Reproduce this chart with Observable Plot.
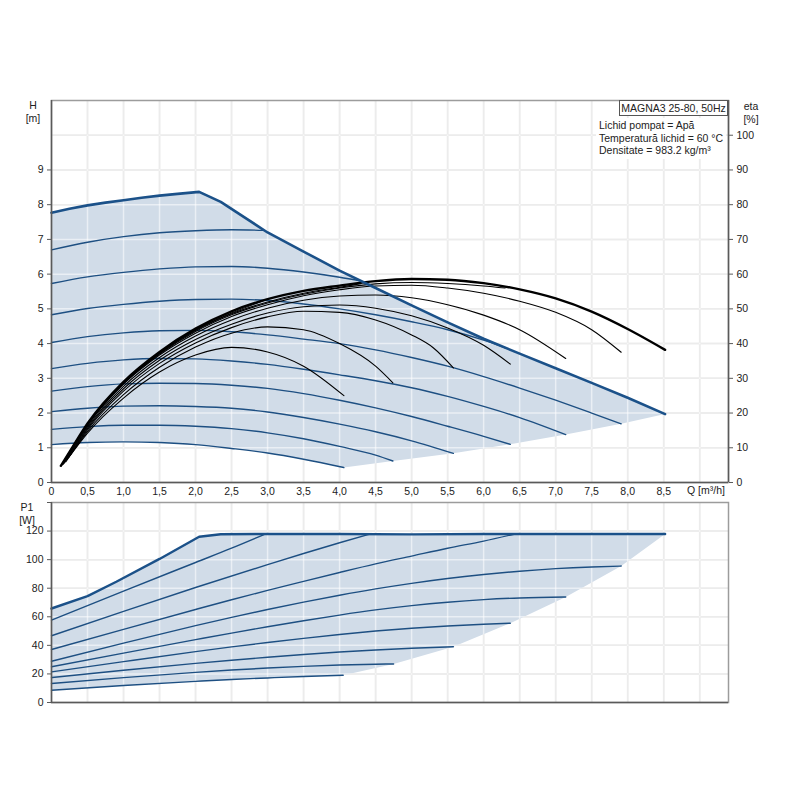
<!DOCTYPE html>
<html>
<head>
<meta charset="utf-8">
<script src="https://cdn.jsdelivr.net/npm/d3@7"></script>
<script src="https://cdn.jsdelivr.net/npm/@observablehq/plot@0.6"></script>
<style>
  html, body { margin: 0; padding: 0; background: #fff; }
  #wrap { position: relative; width: 800px; height: 800px; overflow: hidden;
          font-family: "Liberation Sans", Arial, sans-serif; font-size: 10.5px; color: #222; }
  #wrap > svg, #wrap > figure { position: absolute; left: 0; margin: 0; z-index: 0; }
  .lbl { position: absolute; line-height: 12.5px; white-space: nowrap; z-index: 2; }
  .ctr { text-align: center; }
</style>
</head>
<body>
<div id="wrap">
  <div class="lbl ctr" style="left:18px; top:99px; width:30px;">H<br>[m]</div>
  <div class="lbl ctr" style="left:735px; top:100px; width:32px;">eta<br>[%]</div>
  <div class="lbl ctr" style="left:12px; top:501px; width:30px;">P1<br>[W]</div>
  <div class="lbl" style="left:687px; top:484px;">Q [m³/h]</div>
  <div class="lbl" id="info" style="left:596px; top:118px; width:127px; padding:1px 0 2px 3px; background:#fff; line-height:12.5px;">
    Lichid pompat = Apă<br>Temperatură lichid = 60 °C<br>Densitate = 983.2 kg/m³
  </div>
  <div class="lbl ctr" style="left:619px; top:100px; width:107px; height:14px; line-height:14px; border:1px solid #555; background:#fff;">MAGNA3 25-80, 50Hz</div>
</div>
<script>
// ---------- axis ticks ----------
const qTicks = d3.range(0, 9, 0.5);          // 0 … 8,5
const hTicks = d3.range(0, 10);              // 0 … 9
const etaTicks = d3.range(0, 11);            // eta 0 … 100 % (shown as H/10)
const pTicks = d3.range(0, 141, 20);         // 0 … 140 W

// ---------- H(Q) speed curves [Q m³/h, H m] ----------
const hMax = [[0,7.77],[0.25,7.88],[0.5,7.98],[0.75,8.06],[1,8.13],[1.25,8.2],[1.5,8.26],[1.75,8.31],[2.05,8.37],[2.35,8.08],[3,7.2],[3.5,6.65],[4,6.1],[4.5,5.6],[5,5.1],[5.5,4.61],[6,4.14],[6.5,3.71],[7,3.29],[7.5,2.87],[8,2.44],[8.52,1.97]];
const hC2 = [[0,6.7],[0.5,6.92],[1,7.08],[1.5,7.19],[2,7.25],[2.5,7.28],[2.95,7.26]];
const hC3 = [[0,5.73],[0.5,5.92],[1,6.05],[1.5,6.15],[2,6.21],[2.5,6.22],[3,6.17],[3.5,6.06],[4,5.91],[4.3,5.8]];
const hC4 = [[0,4.83],[0.5,5.01],[1,5.13],[1.5,5.22],[2,5.27],[2.5,5.28],[3,5.24],[3.5,5.14],[4,5.0],[4.5,4.83],[5,4.63],[5.5,4.4],[6,4.1],[6.3,3.88]];
const hC5 = [[0,4.03],[0.5,4.2],[1,4.31],[1.5,4.37],[2,4.38],[2.5,4.34],[3,4.25],[3.5,4.13],[4,4.0],[4.5,3.82],[5,3.6],[5.5,3.35],[6,3.05],[6.5,2.72],[7,2.37],[7.5,2.0],[7.91,1.69]];
const hC6 = [[0,3.28],[0.5,3.43],[1,3.53],[1.5,3.57],[2,3.56],[2.5,3.5],[3,3.4],[3.5,3.26],[4,3.1],[4.5,2.93],[5,2.73],[5.5,2.48],[6,2.19],[6.5,1.87],[7.14,1.38]];
const hC7 = [[0,2.63],[0.5,2.76],[1,2.84],[1.5,2.86],[2,2.85],[2.5,2.8],[3,2.71],[3.5,2.56],[4,2.37],[4.5,2.15],[5,1.9],[5.5,1.62],[6,1.33],[6.37,1.1]];
const hC8 = [[0,2.04],[0.5,2.14],[1,2.2],[1.5,2.21],[2,2.19],[2.5,2.14],[3,2.03],[3.5,1.87],[4,1.68],[4.5,1.46],[5,1.2],[5.58,0.84]];
const hC9 = [[0,1.53],[0.5,1.61],[1,1.65],[1.5,1.65],[2,1.62],[2.5,1.55],[3,1.43],[3.5,1.26],[4,1.04],[4.5,0.79],[4.74,0.62]];
const hC10 = [[0,1.09],[0.5,1.15],[1,1.17],[1.5,1.15],[2,1.09],[2.5,0.98],[3,0.85],[3.5,0.67],[4.06,0.43]];

// ---------- eta(Q) curves [Q m³/h, eta/10 %] ----------
const eMax = [[0.13,0.48],[0.3,1.05],[0.5,1.7],[1,2.9],[1.5,3.76],[2,4.43],[2.5,4.93],[3,5.28],[3.5,5.52],[4,5.67],[4.5,5.8],[5,5.86],[5.5,5.84],[6,5.74],[6.5,5.56],[7,5.3],[7.5,4.92],[8,4.42],[8.52,3.82]];
const eC2 = [[0.14,0.5],[0.3,1.04],[0.5,1.69],[1,2.88],[1.5,3.74],[2,4.4],[2.5,4.88],[2.95,5.24]];
const eC3 = [[0.14,0.5],[0.5,1.68],[1,2.87],[1.5,3.72],[2,4.38],[2.5,4.86],[3,5.2],[3.5,5.45],[4,5.62],[4.3,5.73]];
const eC4 = [[0.15,0.52],[0.5,1.66],[1,2.85],[1.5,3.7],[2,4.35],[2.5,4.83],[3,5.17],[3.5,5.42],[4,5.6],[4.5,5.72],[5,5.76],[5.5,5.73],[6,5.66],[6.3,5.6]];
const eC5 = [[0.16,0.52],[0.5,1.64],[1,2.83],[1.5,3.67],[2,4.3],[2.5,4.78],[3,5.12],[3.5,5.38],[4,5.55],[4.5,5.66],[5,5.68],[5.5,5.6],[6,5.45],[6.5,5.22],[7,4.9],[7.5,4.4],[7.91,3.75]];
const eC6 = [[0.18,0.56],[0.5,1.6],[1,2.77],[1.5,3.6],[2,4.22],[2.5,4.68],[3,5.02],[3.5,5.25],[4,5.37],[4.5,5.4],[5,5.32],[5.5,5.12],[6,4.82],[6.5,4.4],[7.14,3.57]];
const eC7 = [[0.2,0.6],[0.5,1.56],[1,2.7],[1.5,3.52],[2,4.12],[2.5,4.56],[3,4.88],[3.5,5.06],[4,5.11],[4.5,5.02],[5,4.8],[5.5,4.45],[6,3.95],[6.37,3.41]];
const eC8 = [[0.22,0.66],[0.5,1.52],[1,2.63],[1.5,3.43],[2,4.02],[2.5,4.46],[3,4.77],[3.5,4.93],[4,4.9],[4.5,4.68],[5,4.25],[5.3,3.88],[5.58,3.3]];
const eC9 = [[0.24,0.72],[0.5,1.47],[1,2.53],[1.5,3.32],[2,3.9],[2.5,4.3],[3,4.48],[3.5,4.4],[4,4.0],[4.5,3.35],[4.74,2.87]];
const eC10 = [[0.26,0.78],[0.5,1.42],[1,2.43],[1.5,3.18],[2,3.67],[2.5,3.89],[3,3.76],[3.5,3.35],[4.06,2.5]];

// ---------- P1(Q) curves [Q m³/h, P1 W] ----------
const pMax = [[0,65.8],[0.5,74.5],[0.9,84.5],[1.5,100.5],[2.05,116],[2.35,117.8],[3,118],[4,118],[5,117.7],[6,117.9],[7,118],[8.52,118]];
const pC2 = [[0,57.7],[1,78],[2,98],[2.5,108],[2.95,117.5]];
const pC3 = [[0,46.7],[1,63.8],[2,80.5],[3,96.5],[3.5,104.3],[4,111.8],[4.4,117.6]];
const pC4 = [[0,37.1],[1,51.2],[2,65.1],[2.5,71.9],[3,78.5],[3.5,84.8],[4,91],[4.5,97],[5,102.5],[5.5,108],[6,113],[6.42,117.8]];
const pC5 = [[0,28.9],[1,41.6],[2,53.8],[2.5,59.6],[3,65.1],[3.5,70.3],[4,75.1],[4.5,79.5],[5,83.4],[5.5,86.8],[6,89.6],[6.5,91.9],[7,93.7],[7.5,94.9],[7.91,95.5]];
const pC6 = [[0,25],[1,34.6],[2,44],[2.5,48.6],[3,53],[3.5,57.2],[4,61.2],[4.5,64.8],[5,67.8],[5.5,70.2],[6,72],[6.5,73.2],[7.14,73.9]];
const pC7 = [[0,21.4],[1,28.6],[2,35.6],[2.5,38.9],[3,42],[3.5,44.9],[4,47.6],[4.5,50],[5,52],[5.5,53.6],[6,54.8],[6.37,55.5]];
const pC8 = [[0,17.5],[1,22.6],[2,27.4],[2.5,29.6],[3,31.7],[3.5,33.6],[4,35.3],[4.5,36.8],[5,38],[5.58,39]];
const pC9 = [[0,13.3],[1,17.4],[2,21.1],[2.5,22.7],[3,24.1],[3.5,25.3],[4,26.2],[4.5,26.8],[4.75,27]];
const pC10 = [[0,8.6],[1,11.9],[2,14.8],[2.5,16.1],[3,17.2],[3.5,18.2],[4.05,19.1]];

// ---------- derived groupings ----------
const hThin = [hC2, hC3, hC4, hC5, hC6, hC7, hC8, hC9, hC10];
const eThin = [eC2, eC3, eC4, eC5, eC6, eC7, eC8, eC9, eC10];
const pThin = [pC2, pC3, pC4, pC5, pC6, pC7, pC8, pC9, pC10];
const last = c => c[c.length - 1];
const hRegion = [...hMax, ...[hC5, hC6, hC7, hC8, hC9].map(last), ...hC10.slice().reverse()];
const pRegion = [...pMax, ...[pC5, pC6, pC7, pC8, pC9].map(last), ...pC10.slice().reverse()];

const BLUE = "#1d4f82", FILL = "#d1dce8", GRID = "#d6d6d6", AXIS = "#5a5a5a", FRAME = "#9c9c9c";
const X = d => d[0], Y = d => d[1];
const fmtQ = d => d === 0 ? "0" : d.toFixed(1).replace(".", ",");
const style = {fontFamily: "'Liberation Sans', Arial, sans-serif", fontSize: "10.5px", color: "#222", background: "transparent"};

const gridMarks = (yGrid, stroke, opacity) => [
  Plot.gridX(d3.range(0.5, 9.01, 0.5), {stroke, strokeOpacity: opacity, strokeWidth: 1.5}),
  Plot.gridY(yGrid, {stroke, strokeOpacity: opacity, strokeWidth: 1.5})
];

const topChart = Plot.plot({
  width: 800, height: 500,
  marginLeft: 51, marginRight: 72, marginTop: 100, marginBottom: 18,
  x: {domain: [0, 9.4]},
  y: {domain: [0, 11]},
  style,
  marks: [
    ...gridMarks(d3.range(1, 11), GRID, 1),
    Plot.line(hRegion, {x: X, y: Y, fill: FILL, stroke: "none", curve: "linear"}),
    ...gridMarks(d3.range(1, 11), "#ffffff", 0.55),
    Plot.frame({stroke: FRAME, strokeWidth: 1.5}),
    ...hThin.map(c => Plot.line(c, {x: X, y: Y, stroke: BLUE, strokeWidth: 1.4, curve: "monotone-x"})),
    ...eThin.map(c => Plot.line(c, {x: X, y: Y, stroke: "#000", strokeWidth: 1.1, curve: "monotone-x"})),
    Plot.line(eMax, {x: X, y: Y, stroke: "#000", strokeWidth: 2.4, curve: "monotone-x"}),
    Plot.line(hMax, {x: X, y: Y, stroke: "#1b5189", strokeWidth: 2.6, curve: "linear"}),
    Plot.ruleX([0, 9.4], {stroke: AXIS, strokeWidth: 1.5}),
    Plot.ruleY([0], {stroke: AXIS, strokeWidth: 1.5}),
    Plot.axisY(hTicks, {anchor: "left", tickSize: 4, tickPadding: 4, stroke: AXIS, label: null}),
    Plot.axisY(etaTicks, {anchor: "right", tickSize: 4, tickPadding: 4, stroke: AXIS, tickFormat: d => d * 10, label: null}),
    Plot.axisX(qTicks, {anchor: "bottom", tickSize: 0, tickPadding: 5, tickFormat: fmtQ, label: null})
  ]
});
topChart.style.top = "0px";
document.getElementById("wrap").appendChild(topChart);

const bottomChart = Plot.plot({
  width: 800, height: 232,
  marginLeft: 51, marginRight: 72, marginTop: 12, marginBottom: 20,
  x: {domain: [0, 9.4], axis: null},
  y: {domain: [0, 140]},
  style,
  marks: [
    ...gridMarks(d3.range(20, 121, 20), GRID, 1),
    Plot.line(pRegion, {x: X, y: Y, fill: FILL, stroke: "none", curve: "linear"}),
    ...gridMarks(d3.range(20, 121, 20), "#ffffff", 0.55),
    Plot.frame({stroke: FRAME, strokeWidth: 1.5}),
    ...pThin.map(c => Plot.line(c, {x: X, y: Y, stroke: BLUE, strokeWidth: 1.4, curve: "monotone-x"})),
    Plot.line(pMax, {x: X, y: Y, stroke: "#1b5189", strokeWidth: 2.4, curve: "linear"}),
    Plot.ruleX([0], {stroke: AXIS, strokeWidth: 1.5}),
    Plot.ruleY([0], {stroke: AXIS, strokeWidth: 1.5}),
    Plot.axisY(pTicks, {anchor: "left", tickSize: 4, tickPadding: 4, stroke: AXIS, tickFormat: d => d === 140 ? "" : d, label: null})
  ]
});
bottomChart.style.top = "490px";
document.getElementById("wrap").appendChild(bottomChart);
</script>
</body>
</html>
